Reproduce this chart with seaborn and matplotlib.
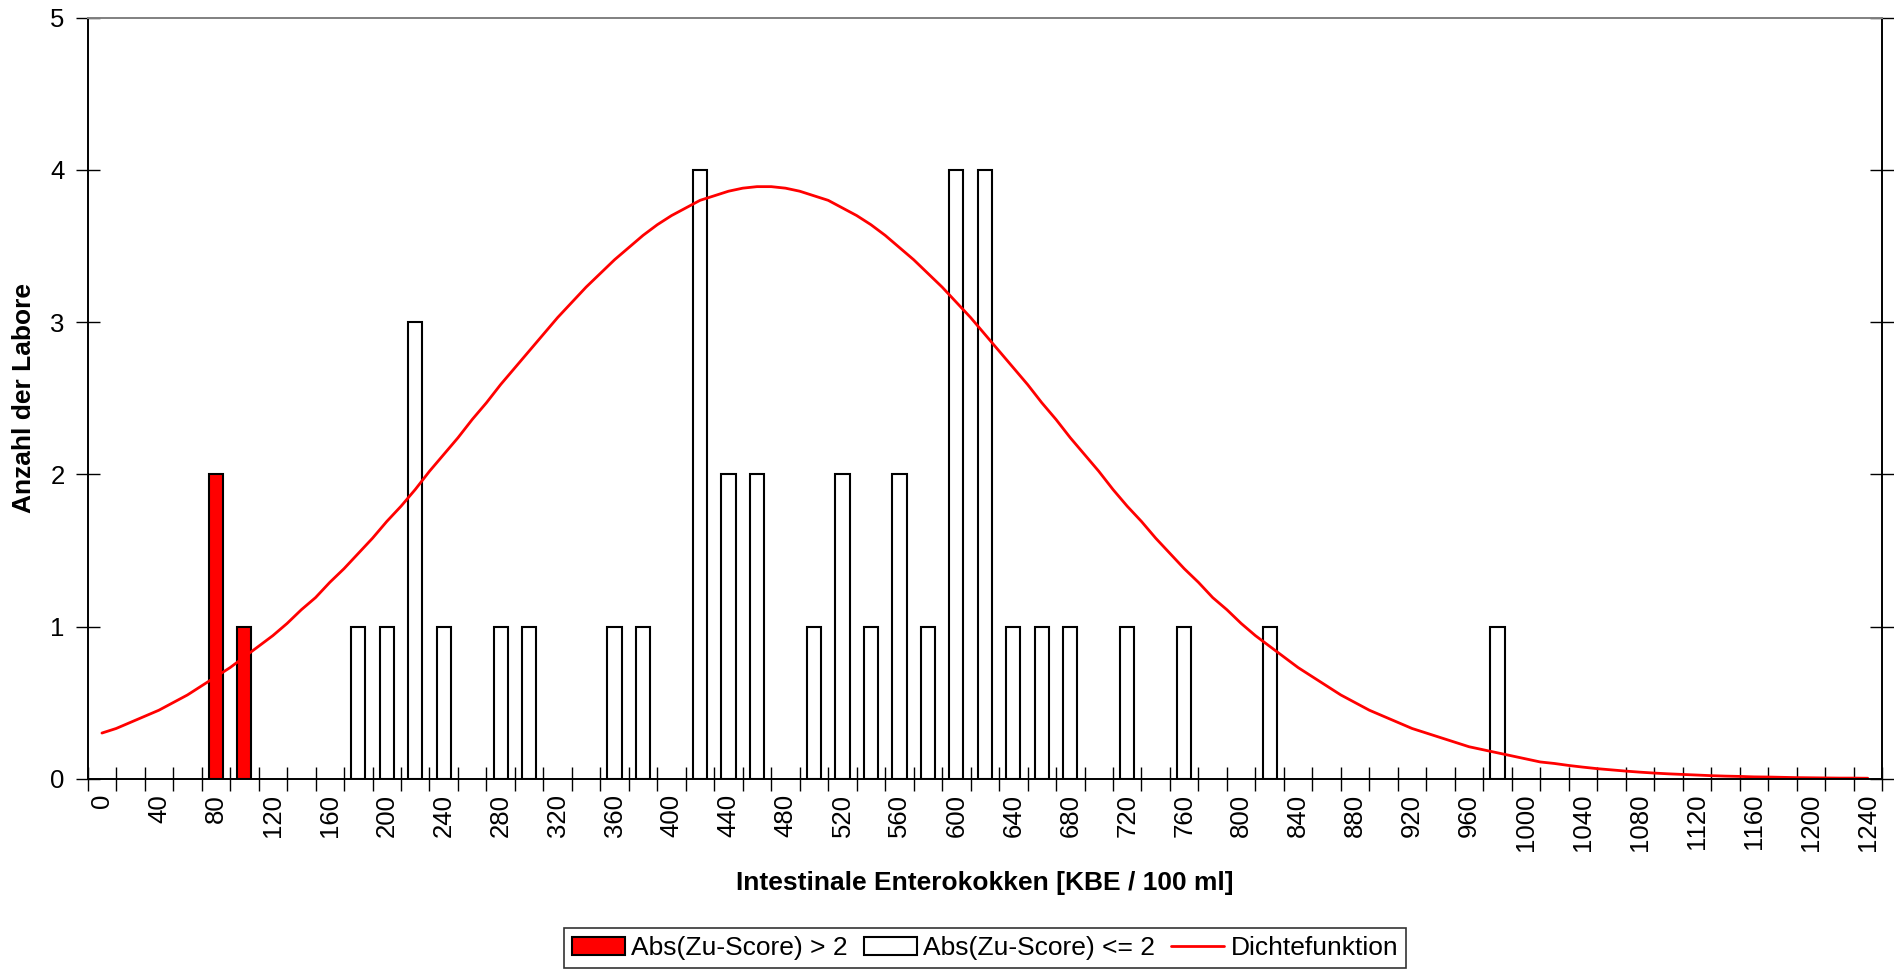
import numpy as np
import pandas as pd
import seaborn as sns
import matplotlib.pyplot as plt
from matplotlib.patches import Patch
from matplotlib.lines import Line2D

# Klassen der x-Achse (KBE / 100 ml)
klassen = list(range(0, 1260, 20))

# Balken: Klasse und Anzahl der Labore
balken_klasse = [80, 100, 180, 200, 220, 240, 280, 300, 360, 380, 420, 440, 460, 500,
                 520, 540, 560, 580, 600, 620, 640, 660, 680, 720, 760, 820, 980]
balken_anzahl = [2, 1, 1, 1, 3, 1, 1, 1, 1, 1, 4, 2, 2, 1,
                 2, 1, 2, 1, 4, 4, 1, 1, 1, 1, 1, 1, 1]
ausreisser = [80, 100]

dichte_kbe = list(range(0, 1250, 10))
dichte = [0.30, 0.33, 0.37, 0.41, 0.45, 0.50, 0.55, 0.61, 0.67, 0.73,
          0.80, 0.87, 0.94, 1.02, 1.11, 1.19, 1.29, 1.38, 1.48, 1.58,
          1.69, 1.79, 1.90, 2.02, 2.13, 2.24, 2.36, 2.47, 2.59, 2.70,
          2.81, 2.92, 3.03, 3.13, 3.23, 3.32, 3.41, 3.49, 3.57, 3.64,
          3.70, 3.75, 3.80, 3.83, 3.86, 3.88, 3.89, 3.89, 3.88, 3.86,
          3.83, 3.80, 3.75, 3.70, 3.64, 3.57, 3.49, 3.41, 3.32, 3.23,
          3.13, 3.03, 2.92, 2.81, 2.70, 2.59, 2.47, 2.36, 2.24, 2.13,
          2.02, 1.90, 1.79, 1.69, 1.58, 1.48, 1.38, 1.29, 1.19, 1.11,
          1.02, 0.94, 0.87, 0.80, 0.73, 0.67, 0.61, 0.55, 0.50, 0.45,
          0.41, 0.37, 0.33, 0.30, 0.27, 0.24, 0.21, 0.19, 0.17, 0.15,
          0.13, 0.11, 0.10, 0.087, 0.076, 0.066, 0.058, 0.050, 0.043, 0.037,
          0.032, 0.028, 0.024, 0.020, 0.017, 0.015, 0.012, 0.011, 0.009, 0.007,
          0.006, 0.005, 0.004, 0.004, 0.003]

lab_gross = "Abs(Zu-Score) > 2"
lab_klein = "Abs(Zu-Score) <= 2"

df = pd.DataFrame({"pos": [klassen.index(k) for k in balken_klasse],
                   "anzahl": balken_anzahl,
                   "gruppe": [lab_gross if k in ausreisser else lab_klein for k in balken_klasse]})

sns.set_style("white")
plt.rcParams["font.family"] = ["Liberation Sans", "DejaVu Sans"]
plt.rcParams["text.color"] = "black"
plt.rcParams["xtick.color"] = "black"
plt.rcParams["ytick.color"] = "black"

fig = plt.figure(figsize=(18.94, 9.69), dpi=100)
ax = fig.add_axes([87.7 / 1894, 1 - 778.7 / 969, (1882 - 87.7) / 1894, (778.7 - 17.7) / 969])

sns.barplot(data=df, x="pos", y="anzahl", hue="gruppe", order=list(range(len(klassen))),
            palette={lab_gross: "#ff0000", lab_klein: "white"}, saturation=1, dodge=False, width=0.5,
            edgecolor="black", linewidth=1.5, legend=False, ax=ax)
sns.lineplot(x=np.array(dichte_kbe) / 20, y=dichte, color="#ff0000", linewidth=2.0, ax=ax)

ax.set_xlim(-0.5, len(klassen) - 0.5)
ax.set_ylim(0, 5)
ax.set_yticks(range(6))
ax.set_yticklabels([str(i) for i in range(6)], fontsize=18.5)
ax.set_xticks(range(0, len(klassen), 2))
ax.set_xticklabels([str(klassen[i]) for i in range(0, len(klassen), 2)], rotation=90, fontsize=18.5)
ax.set_xticks(np.arange(-0.5, len(klassen), 1), minor=True)
ax.tick_params(axis="x", which="major", length=0, pad=11)
ax.tick_params(axis="x", which="minor", length=17, width=1, direction="inout", bottom=True, top=False)
ax.tick_params(axis="y", which="major", length=17, width=1, direction="inout", left=True, right=True, pad=8)
ax.set_xlabel("")
ax.set_ylabel("")

for s in ["left", "right", "bottom"]:
    ax.spines[s].set_color("black")
    ax.spines[s].set_linewidth(1.4)
ax.spines["top"].set_color("#808080")
ax.spines["top"].set_linewidth(1.4)

fig.text(24 / 1894, 1 - 398 / 969, "Anzahl der Labore", rotation=90, ha="center", va="center",
         fontsize=19, fontweight="bold")
fig.text(985 / 1894, 1 - 883 / 969, "Intestinale Enterokokken [KBE / 100 ml]", ha="center", va="center",
         fontsize=19, fontweight="bold")

handles = [Patch(facecolor="#ff0000", edgecolor="black", linewidth=1.5, label=lab_gross),
           Patch(facecolor="white", edgecolor="black", linewidth=1.5, label=lab_klein),
           Line2D([0], [0], color="#ff0000", linewidth=2.0, label="Dichtefunktion")]
leg = fig.legend(handles=handles, loc="center", bbox_to_anchor=(985 / 1894, 1 - 948 / 969), ncol=3,
                 frameon=True, fancybox=False, edgecolor="black", fontsize=19, handlelength=2.0,
                 handletextpad=0.25, columnspacing=0.6, borderpad=0.3)
leg.get_frame().set_linewidth(1.2)

fig.savefig("out.png", dpi=100)
